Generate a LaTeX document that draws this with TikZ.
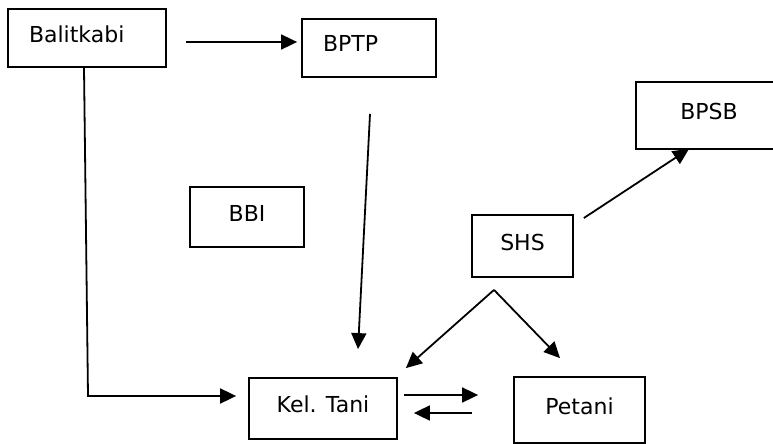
\documentclass[tikz,border=0pt]{standalone}
\usepackage{fontspec}
\setmainfont{DejaVu Sans}
\usetikzlibrary{calc,arrows.meta}
\tikzset{
	box/.style={draw, line width=1.8pt, rectangle, inner sep=0pt,
		text height=16pt, text depth=8pt, font=\fontsize{22}{26}\selectfont},
	leftbox/.style={box, align=left, inner xsep=21pt},
	arr/.style={line width=1.8pt, -{Triangle[length=16pt,width=15pt]}}
}

\begin{document}
\begin{tikzpicture}[x=1pt, y=-1pt]
		%%%%% START %%%%%
		\useasboundingbox (0, 0) rectangle (773, 444);
		
		\node[leftbox, text width=116pt, minimum height=58pt] (balit) at (87, 38) {Balitkabi};
		\node[leftbox, text width=92pt, minimum height=58pt] (bptp) at (369, 48) {BPTP};
		\node[box, minimum width=146pt, minimum height=67pt] (bpsb) at (709, 115.5) {BPSB};
		\node[box, minimum width=114pt, minimum height=60pt] (bbi) at (247, 217) {BBI};
		\node[box, minimum width=101pt, minimum height=62pt] (shs) at (522.5, 246) {SHS};
		\node[box, minimum width=148pt, minimum height=61pt] (kel) at (323, 408.5) {Kel. Tani};
		\node[box, minimum width=131pt, minimum height=66pt] (petani) at (579.5, 410) {Petani};
		
		\coordinate (bend) at (88, 396);
		\coordinate (fork) at ($(shs.south)+(-28.5, 12)$);
		
		\draw[arr] ($(balit.east)+(19, 4)$) -- ($(bptp.west)+(-4, -6)$);
		\draw[arr] ($(balit.south)+(-3, 0)$) -- (bend) -- ($(kel.west)+(-12, -12.5)$);
		\draw[arr] ($(bptp.south)+(1, 36)$) -- ($(kel.north)+(35, -28)$);
		\draw[arr] ($(shs.east)+(10, -28)$) -- ($(bpsb.south)+(-20, -1)$);
		
		\draw[arr] (fork) -- ($(kel.north east)+(8, -9)$);
		\draw[arr] (fork) -- ($(petani.north)+(-19.5, -18)$);
		
		\draw[arr] ($(kel.east)+(6, -13.5)$) -- ($(petani.west)+(-35, -15)$);
		\draw[arr] ($(petani.west)+(-41, 3)$) -- ($(kel.east)+(16, 4.5)$);
		
		%%%%% END %%%%%
	\end{tikzpicture}
\end{document}
